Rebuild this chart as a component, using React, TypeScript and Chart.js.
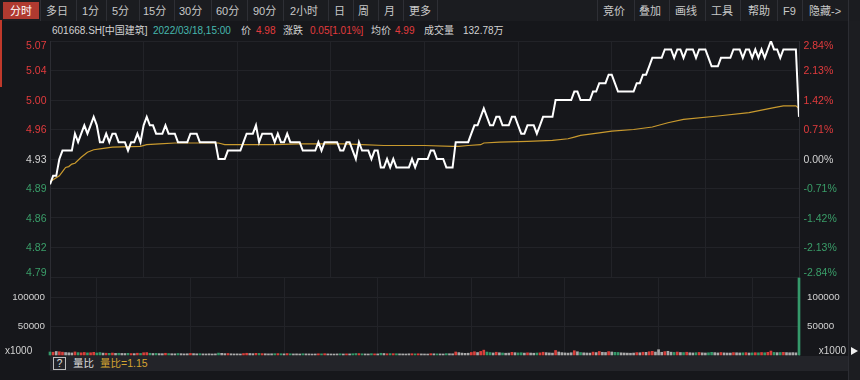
import React, { useEffect, useRef } from 'react';
import { Chart, registerables } from 'chart.js';
Chart.register(...registerables);

// ---------- data ----------
const prevClose = 4.93;

// one value per minute, 09:30 .. 15:00 (241 points)
const prices = [
  4.90, 4.91, 4.91, 4.93, 4.94, 4.94, 4.94, 4.94, 4.96, 4.95,
  4.96, 4.97, 4.96, 4.97, 4.98, 4.97, 4.95, 4.95, 4.96, 4.95,
  4.96, 4.96, 4.95, 4.95, 4.95, 4.94, 4.95, 4.95, 4.96, 4.95,
  4.97, 4.98, 4.97, 4.97, 4.96, 4.96, 4.96, 4.97, 4.96, 4.96,
  4.96, 4.95, 4.95, 4.95, 4.95, 4.96, 4.96, 4.96, 4.95, 4.95,
  4.95, 4.95, 4.95, 4.95, 4.93, 4.93, 4.93, 4.94, 4.94, 4.94,
  4.94, 4.94, 4.95, 4.96, 4.96, 4.96, 4.97, 4.95, 4.96, 4.96,
  4.96, 4.96, 4.95, 4.96, 4.95, 4.95, 4.96, 4.95, 4.95, 4.95,
  4.95, 4.94, 4.94, 4.94, 4.94, 4.94, 4.95, 4.94, 4.95, 4.95,
  4.95, 4.95, 4.95, 4.94, 4.94, 4.95, 4.95, 4.94, 4.93, 4.95,
  4.94, 4.94, 4.94, 4.93, 4.94, 4.94, 4.92, 4.92, 4.93, 4.92,
  4.93, 4.92, 4.92, 4.92, 4.92, 4.92, 4.93, 4.92, 4.93, 4.93,
  4.93, 4.93, 4.94, 4.94, 4.93, 4.93, 4.93, 4.92, 4.92, 4.92,
  4.95, 4.95, 4.95, 4.95, 4.95, 4.96, 4.97, 4.97, 4.98, 4.99,
  4.98, 4.97, 4.97, 4.98, 4.98, 4.97, 4.97, 4.97, 4.98, 4.98,
  4.97, 4.96, 4.96, 4.97, 4.97, 4.97, 4.96, 4.97, 4.98, 4.98,
  4.98, 4.98, 5.00, 5.00, 5.00, 5.00, 5.00, 5.00, 5.01, 5.01,
  5.00, 5.00, 5.00, 5.00, 5.01, 5.01, 5.02, 5.02, 5.02, 5.03,
  5.03, 5.02, 5.01, 5.01, 5.01, 5.01, 5.01, 5.01, 5.02, 5.02,
  5.03, 5.03, 5.04, 5.05, 5.05, 5.05, 5.05, 5.06, 5.06, 5.06,
  5.05, 5.06, 5.06, 5.05, 5.06, 5.06, 5.06, 5.05, 5.06, 5.06,
  5.06, 5.05, 5.04, 5.04, 5.04, 5.05, 5.05, 5.05, 5.05, 5.06,
  5.06, 5.06, 5.05, 5.06, 5.06, 5.05, 5.06, 5.05, 5.06, 5.05,
  5.06, 5.07, 5.06, 5.06, 5.05, 5.06, 5.06, 5.06, 5.06, 5.06,
  4.98,
];

// average price line, read at these minutes
const avgMinutes = [0, 3, 4, 5, 6, 7, 8, 10, 12, 14, 16, 20, 29, 31, 35, 40, 54, 56, 72, 80, 94, 100, 107, 120, 129, 131, 134, 138, 139, 144, 153, 161, 166, 168, 170, 176, 180, 187, 193, 198, 203, 214, 224, 232, 235, 239, 240];
const avgValues = [4.903, 4.910, 4.915, 4.920, 4.921, 4.924, 4.925, 4.932, 4.938, 4.941, 4.942, 4.944, 4.945, 4.947, 4.948, 4.949, 4.949, 4.947, 4.947, 4.948, 4.948, 4.947, 4.946, 4.946, 4.945, 4.945, 4.946, 4.947, 4.949, 4.950, 4.951, 4.952, 4.954, 4.956, 4.958, 4.961, 4.963, 4.965, 4.968, 4.973, 4.977, 4.981, 4.985, 4.991, 4.993, 4.993, 4.990];

// volume per minute (x1000)
const volumes = [
  5200, 4800, 6100, 5600, 4900, 4300, 3900, 3600, 5300, 4100,
  3800, 4400, 3700, 3900, 4600, 3500, 4200, 3300, 3100, 2900,
  3400, 2800, 3000, 2700, 2600, 2900, 2500, 2400, 3100, 2700,
  3900, 4200, 3000, 2600, 2800, 2400, 2300, 3000, 2500, 2200,
  2100, 2600, 2300, 2000, 2200, 2700, 2400, 2100, 2300, 2000,
  1900, 2100, 1800, 2000, 3300, 2900, 2400, 2600, 2100, 1900,
  2000, 1800, 2500, 3000, 2600, 2300, 2900, 2700, 2400, 2200,
  2000, 2100, 2300, 2400, 2200, 2000, 2500, 2100, 1900, 2000,
  1800, 2200, 2000, 1900, 1700, 1800, 2100, 2000, 2300, 1900,
  1800, 1700, 1900, 2100, 1800, 2000, 1900, 2200, 2600, 2400,
  2100, 1900, 1800, 2300, 2000, 1900, 3000, 2600, 2200, 2400,
  2300, 2200, 2000, 1900, 1800, 2100, 2200, 2000, 2100, 1900,
  1800, 1700, 2300, 2100, 2000, 1900, 1800, 2400, 2200, 2100,
  5200, 4100, 3300, 2900, 3100, 4400, 5600, 4300, 6200, 8400,
  5100, 4200, 3600, 4800, 3900, 3500, 3100, 3300, 4600, 4000,
  3600, 3900, 3300, 3800, 3400, 3100, 3500, 3700, 4800, 4100,
  3600, 3300, 7800, 5200, 4100, 3600, 3300, 3900, 7400, 5600,
  4300, 3800, 3500, 3300, 5000, 4200, 6100, 4700, 4400, 5900,
  5200, 4600, 4400, 3800, 3500, 3300, 3100, 3400, 4200, 3900,
  4800, 4600, 5600, 6300, 5100, 9200, 4700, 5800, 6400, 4900,
  4500, 5100, 4300, 4200, 4800, 3900, 3600, 4000, 4400, 3800,
  3500, 3900, 4600, 4100, 3600, 4300, 3700, 3500, 3400, 4200,
  3900, 3600, 3800, 4100, 3500, 3700, 4000, 3800, 4300, 3900,
  4600, 6800, 4500, 4100, 4300, 4600, 4200, 3900, 4100, 3800,
  133000,
];

const priceTicks = [5.07, 5.035, 5.0, 4.965, 4.93, 4.895, 4.86, 4.825, 4.79];
const priceTickLabels = ['5.07', '5.04', '5.00', '4.96', '4.93', '4.89', '4.86', '4.82', '4.79'];
const pctTicks = [2.84, 2.13, 1.42, 0.71, 0, -0.71, -1.42, -2.13, -2.84];
const pctTickLabels = ['2.84%', '2.13%', '1.42%', '0.71%', '0.00%', '-0.71%', '-1.42%', '-2.13%', '-2.84%'];
const volTicks = [100000, 50000];
const volTickLabels = ['100000', '50000'];
const volUnit = 'x1000';
const volMax = 133000;

const toolbarLeftItems = ['分时', '多日', '1分', '5分', '15分', '30分', '60分', '90分', '2小时', '日', '周', '月', '更多'];
const toolbarRightItems = ['竞价', '叠加', '画线', '工具', '帮助', 'F9', '隐藏->'];

const infoStock = '601668.SH[中国建筑]';
const infoTime = '2022/03/18,15:00';
const infoPriceLabel = '价';
const infoPrice = '4.98';
const infoChangeLabel = '涨跌';
const infoChange = '0.05[1.01%]';
const infoAvgLabel = '均价';
const infoAvg = '4.99';
const infoVolLabel = '成交量';
const infoVol = '132.78万';
const ratioTitle = '量比';
const ratioValue = '量比=1.15';

// ---------- layout / style ----------
const toolbarLeftX = [10, 46, 82, 112, 143, 179, 216, 253, 290, 334, 358, 384, 409];
const toolbarRightX = [603, 639, 675, 711, 748, 783, 809];
const toolbarSepX = [40, 76, 106, 139, 174, 211, 247, 283, 328, 353, 378, 403, 437, 597, 634, 669, 705, 740, 777, 802, 848];

const RED = '#e23b3d';
const GREEN = '#3a9e69';
const WHITE = '#d2d2d2';
const GOLD = '#c99a2e';
const GRID = '#222328';
const BORDER = '#2c2d33';
const BG = '#16171b';
const FONT = '"Liberation Sans", "Noto Sans CJK SC", Arial, sans-serif';

const colorBySign = (d: number) => (d > 1e-9 ? RED : d < -1e-9 ? GREEN : WHITE);

type LabelSpec = {
  scaleId: string;
  values: number[];
  labels: string[];
  x: number;
  align: CanvasTextAlign;
  font: string;
  color: (v: number) => string;
  dy: number;
  clampTop: number;
  clampBottom: number;
};

function sideLabels(specs: LabelSpec[], extra?: (chart: any) => void) {
  return {
    id: 'sideLabels',
    afterDraw(chart: any) {
      const ctx = chart.ctx as CanvasRenderingContext2D;
      const area = chart.chartArea;
      ctx.save();
      for (const s of specs) {
        const scale = chart.scales[s.scaleId];
        ctx.font = s.font;
        ctx.textAlign = s.align;
        ctx.textBaseline = 'middle';
        s.values.forEach((v, i) => {
          let y = scale.getPixelForValue(v) + s.dy;
          y = Math.max(area.top + s.clampTop, Math.min(area.bottom - s.clampBottom, y));
          ctx.fillStyle = s.color(v);
          ctx.fillText(s.labels[i], s.x, y);
        });
      }
      if (extra) extra(chart);
      ctx.restore();
    },
  };
}

const xScale = {
  type: 'linear' as const,
  min: 0,
  max: 240,
  ticks: { display: false, stepSize: 30 },
  grid: { color: GRID, drawTicks: false, lineWidth: 1 },
  border: { display: false },
  afterFit: (s: any) => { s.height = 0; },
};

export default function App() {
  const mainRef = useRef<HTMLCanvasElement>(null);
  const volRef = useRef<HTMLCanvasElement>(null);

  useEffect(() => {
    const priceData = prices.map((p, i) => ({ x: i, y: p }));
    const avgData = avgMinutes.map((m, i) => ({ x: m, y: avgValues[i] }));

    const main = new Chart(mainRef.current!, {
      type: 'line',
      data: {
        datasets: [
          { label: '价', data: priceData, borderColor: '#ffffff', borderWidth: 2, pointRadius: 0, tension: 0, yAxisID: 'y', order: 0 },
          { label: '均价', data: avgData, borderColor: GOLD, borderWidth: 1.2, pointRadius: 0, tension: 0, yAxisID: 'y', order: 1 },
        ],
      },
      options: {
        animation: false,
        responsive: false,
        maintainAspectRatio: false,
        devicePixelRatio: 1,
        layout: { padding: { top: 5, bottom: 5, left: 0, right: 0 } },
        plugins: { legend: { display: false }, tooltip: { enabled: false } },
        scales: {
          x: xScale as any,
          y: {
            position: 'left',
            min: 4.79,
            max: 5.07,
            afterBuildTicks: (s: any) => { s.ticks = priceTicks.map((v) => ({ value: v })); },
            ticks: { display: false },
            grid: { color: GRID, drawTicks: false },
            border: { color: BORDER },
            afterFit: (s: any) => { s.width = 50; },
          },
          yr: {
            position: 'right',
            min: -2.84,
            max: 2.84,
            ticks: { display: false },
            grid: { display: false },
            border: { color: BORDER },
            afterFit: (s: any) => { s.width = 49; },
          },
        },
      },
      plugins: [
        sideLabels([
          {
            scaleId: 'y', values: priceTicks, labels: priceTickLabels, x: 46.5, align: 'right',
            font: `10.5px ${FONT}`, color: (v) => colorBySign(v - prevClose), dy: 1, clampTop: 5, clampBottom: 4,
          },
          {
            scaleId: 'yr', values: pctTicks, labels: pctTickLabels, x: 803.5, align: 'left',
            font: `10.5px ${FONT}`, color: (v) => colorBySign(v), dy: 1, clampTop: 5, clampBottom: 4,
          },
        ]) as any,
      ],
    });

    const volData = volumes.map((v, i) => ({ x: i, y: v }));
    const volColors = prices.map((p, i) => colorBySign(p - (i === 0 ? prevClose : prices[i - 1])))
      .map((c) => (c === WHITE ? '#a9a9a9' : c === RED ? '#d8403c' : '#35996a'));

    const vol = new Chart(volRef.current!, {
      type: 'bar',
      data: {
        datasets: [
          { label: '成交量', data: volData as any, backgroundColor: volColors, barThickness: 2, borderWidth: 0, clip: false as any },
        ],
      },
      options: {
        animation: false,
        responsive: false,
        maintainAspectRatio: false,
        devicePixelRatio: 1,
        layout: { padding: { top: 2, bottom: 2, left: 0, right: 0 } },
        plugins: { legend: { display: false }, tooltip: { enabled: false } },
        scales: {
          x: { ...(xScale as any), offset: false },
          y: {
            position: 'left',
            min: 0,
            max: volMax,
            afterBuildTicks: (s: any) => { s.ticks = volTicks.map((v) => ({ value: v })); },
            ticks: { display: false },
            grid: { color: GRID, drawTicks: false },
            border: { color: BORDER },
            afterFit: (s: any) => { s.width = 50; },
          },
          yr: {
            position: 'right',
            min: 0,
            max: volMax,
            ticks: { display: false },
            grid: { display: false },
            border: { color: BORDER },
            afterFit: (s: any) => { s.width = 49; },
          },
        },
      },
      plugins: [
        sideLabels(
          [
            {
              scaleId: 'y', values: volTicks, labels: volTickLabels, x: 45, align: 'right',
              font: `9.8px ${FONT}`, color: () => WHITE, dy: 0, clampTop: 0, clampBottom: 0,
            },
            {
              scaleId: 'yr', values: volTicks, labels: volTickLabels, x: 807, align: 'left',
              font: `9.8px ${FONT}`, color: () => WHITE, dy: 0, clampTop: 0, clampBottom: 0,
            },
          ],
          (chart: any) => {
            const ctx = chart.ctx as CanvasRenderingContext2D;
            const y = chart.chartArea.bottom - 4;
            ctx.font = `10px ${FONT}`;
            ctx.fillStyle = WHITE;
            ctx.textBaseline = 'middle';
            ctx.textAlign = 'left';
            ctx.fillText(volUnit, 5, y);
            ctx.textAlign = 'right';
            ctx.fillText(volUnit, 846, y);
          },
        ) as any,
      ],
    });

    return () => {
      main.destroy();
      vol.destroy();
    };
  }, []);

  const txt = (s: React.CSSProperties): React.CSSProperties => ({
    position: 'absolute', whiteSpace: 'nowrap', fontFamily: FONT, ...s,
  });

  return (
    <div style={{ position: 'fixed', left: 0, top: 0, width: 860, height: 380, background: BG, overflow: 'hidden' }}>
      {/* toolbar */}
      <div style={{ position: 'absolute', left: 0, top: 0, width: 860, height: 21, background: '#1b1c20' }} />
      <div style={{ position: 'absolute', left: 3, top: 2, width: 36, height: 17, background: '#b03a30' }} />
      {toolbarSepX.map((x, i) => (
        <div key={'s' + i} style={{ position: 'absolute', left: x, top: 0, width: 1, height: 21, background: '#2e2f35' }} />
      ))}
      {toolbarLeftItems.map((t, i) => (
        <span key={'l' + i} style={txt({ left: toolbarLeftX[i], top: 1, lineHeight: '20px', fontSize: 11, color: i === 0 ? '#ffffff' : '#c8c8c8' })}>{t}</span>
      ))}
      {toolbarRightItems.map((t, i) => (
        <span key={'r' + i} style={txt({ left: toolbarRightX[i], top: 1, lineHeight: '20px', fontSize: 11, color: '#c8c8c8' })}>{t}</span>
      ))}
      {/* left red marker */}
      <div style={{ position: 'absolute', left: 0, top: 20, width: 2, height: 67, background: '#c0392b' }} />
      {/* info line */}
      <span style={txt({ left: 52, top: 24, lineHeight: '14px', fontSize: 10, color: WHITE })}>{infoStock}</span>
      <span style={txt({ left: 153, top: 24, lineHeight: '14px', fontSize: 10, color: '#46b8ae' })}>{infoTime}</span>
      <span style={txt({ left: 241, top: 24, lineHeight: '14px', fontSize: 10, color: WHITE })}>{infoPriceLabel}</span>
      <span style={txt({ left: 256, top: 24, lineHeight: '14px', fontSize: 10, color: RED })}>{infoPrice}</span>
      <span style={txt({ left: 283, top: 24, lineHeight: '14px', fontSize: 10, color: WHITE })}>{infoChangeLabel}</span>
      <span style={txt({ left: 310, top: 24, lineHeight: '14px', fontSize: 10, color: RED })}>{infoChange}</span>
      <span style={txt({ left: 371, top: 24, lineHeight: '14px', fontSize: 10, color: WHITE })}>{infoAvgLabel}</span>
      <span style={txt({ left: 395, top: 24, lineHeight: '14px', fontSize: 10, color: RED })}>{infoAvg}</span>
      <span style={txt({ left: 424, top: 24, lineHeight: '14px', fontSize: 10, color: WHITE })}>{infoVolLabel}</span>
      <span style={txt({ left: 463, top: 24, lineHeight: '14px', fontSize: 10, color: WHITE })}>{infoVol}</span>

      {/* charts */}
      <canvas ref={mainRef} width={848} height={246} style={{ position: 'absolute', left: 0, top: 36, width: 848, height: 246 }} />
      <canvas ref={volRef} width={848} height={81} style={{ position: 'absolute', left: 0, top: 276, width: 848, height: 81 }} />

      {/* bottom strip */}
      <div style={{ position: 'absolute', left: 50, top: 356, width: 799, height: 15, background: '#232429' }} />
      <div style={{ position: 'absolute', left: 53, top: 357, width: 11, height: 11, border: '1px solid #bdbdbd', color: '#e0e0e0', fontFamily: FONT, fontSize: 10, lineHeight: '11px', textAlign: 'center' }}>?</div>
      <span style={txt({ left: 73, top: 356, lineHeight: '15px', fontSize: 10.5, color: '#dcdcdc' })}>{ratioTitle}</span>
      <span style={txt({ left: 100, top: 356, lineHeight: '15px', fontSize: 10.5, color: '#d4a431' })}>{ratioValue}</span>

      {/* right side panel */}
      <div style={{ position: 'absolute', left: 848, top: 21, width: 1, height: 359, background: '#2c2d33' }} />
      <div style={{ position: 'absolute', left: 849, top: 21, width: 11, height: 359, background: '#1c1d21' }} />
      <div style={{ position: 'absolute', left: 851, top: 347, width: 0, height: 0, borderTop: '4px solid transparent', borderBottom: '4px solid transparent', borderLeft: '7px solid #f0f0f0' }} />
    </div>
  );
}
